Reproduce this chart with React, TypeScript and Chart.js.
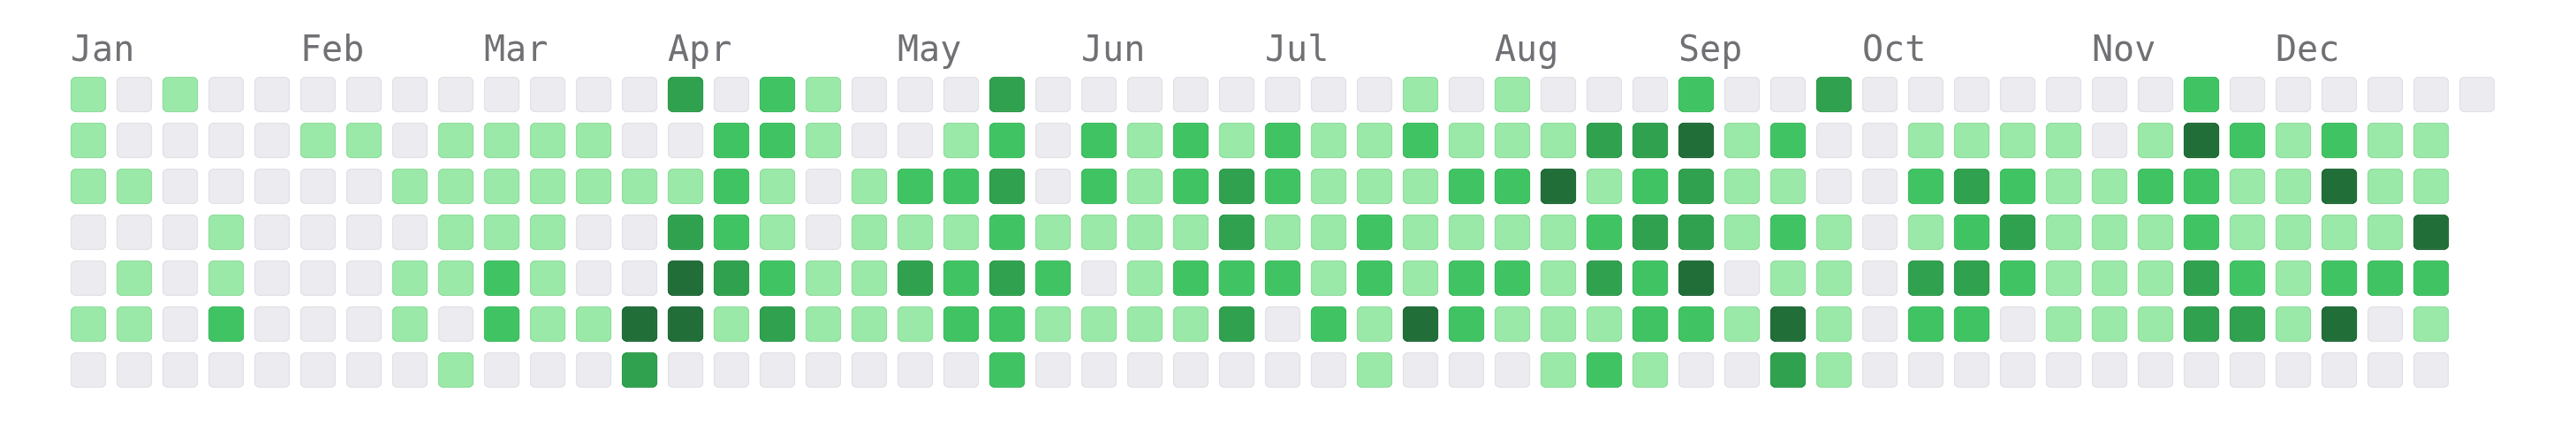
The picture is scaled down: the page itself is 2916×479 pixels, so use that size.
import React, { useEffect, useRef } from 'react';
import { Chart, registerables } from 'chart.js';

Chart.register(...registerables);

// Month labels and the week column in which each label starts
const months = ['Jan', 'Feb', 'Mar', 'Apr', 'May', 'Jun', 'Jul', 'Aug', 'Sep', 'Oct', 'Nov', 'Dec'];
const monthStartWeek = [0, 5, 9, 13, 18, 22, 26, 31, 35, 39, 44, 48];
const weekCount = 53;

// Contribution level (0-4) per week, one array per weekday row
const sun = [1, 0, 1, 0, 0, 0, 0, 0, 0, 0, 0, 0, 0, 3, 0, 2, 1, 0, 0, 0, 3, 0, 0, 0, 0, 0, 0, 0, 0, 1, 0, 1, 0, 0, 0, 2, 0, 0, 3, 0, 0, 0, 0, 0, 0, 0, 2, 0, 0, 0, 0, 0, 0];
const mon = [1, 0, 0, 0, 0, 1, 1, 0, 1, 1, 1, 1, 0, 0, 2, 2, 1, 0, 0, 1, 2, 0, 2, 1, 2, 1, 2, 1, 1, 2, 1, 1, 1, 3, 3, 4, 1, 2, 0, 0, 1, 1, 1, 1, 0, 1, 4, 2, 1, 2, 1, 1];
const tue = [1, 1, 0, 0, 0, 0, 0, 1, 1, 1, 1, 1, 1, 1, 2, 1, 0, 1, 2, 2, 3, 0, 2, 1, 2, 3, 2, 1, 1, 1, 2, 2, 4, 1, 2, 3, 1, 1, 0, 0, 2, 3, 2, 1, 1, 2, 2, 1, 1, 4, 1, 1];
const wed = [0, 0, 0, 1, 0, 0, 0, 0, 1, 1, 1, 0, 0, 3, 2, 1, 0, 1, 1, 1, 2, 1, 1, 1, 1, 3, 1, 1, 2, 1, 1, 1, 1, 2, 3, 3, 1, 2, 1, 0, 1, 2, 3, 1, 1, 1, 2, 1, 1, 1, 1, 4];
const thu = [0, 1, 0, 1, 0, 0, 0, 1, 1, 2, 1, 0, 0, 4, 3, 2, 1, 1, 3, 2, 3, 2, 0, 1, 2, 2, 2, 1, 2, 1, 2, 2, 1, 3, 2, 4, 0, 1, 1, 0, 3, 3, 2, 1, 1, 1, 3, 2, 1, 2, 2, 2];
const fri = [1, 1, 0, 2, 0, 0, 0, 1, 0, 2, 1, 1, 4, 4, 1, 3, 1, 1, 1, 2, 2, 1, 1, 1, 1, 3, 0, 2, 1, 4, 2, 1, 1, 1, 2, 2, 1, 4, 1, 0, 2, 2, 0, 1, 1, 1, 3, 3, 1, 4, 0, 1];
const sat = [0, 0, 0, 0, 0, 0, 0, 0, 1, 0, 0, 0, 3, 0, 0, 0, 0, 0, 0, 0, 2, 0, 0, 0, 0, 0, 0, 0, 1, 0, 0, 0, 1, 2, 1, 0, 0, 3, 1, 0, 0, 0, 0, 0, 0, 0, 0, 0, 0, 0, 0, 0];
const dayRows = [sun, mon, tue, wed, thu, fri, sat];

// Styles
const levelFill = ['#ebebf0', '#9be9a8', '#40c463', '#30a14e', '#216e39'];
const levelEdge = ['#e1e1e7', '#8fdd9d', '#3bba5d', '#2c994a', '#1f6837'];

export default function App() {
  const ref = useRef<HTMLCanvasElement>(null);

  useEffect(() => {
    document.body.style.margin = '0';
    const weekLabels = Array.from({ length: weekCount }, (_, w) => {
      const i = monthStartWeek.indexOf(w);
      return i >= 0 ? months[i] : '';
    });
    const half = 20 / 52;
    const datasets = dayRows.map((row, r) => ({
      label: 'row' + r,
      data: Array.from({ length: weekCount }, (_, w) =>
        row[w] === undefined ? null : [r - half, r + half]
      ),
      backgroundColor: Array.from({ length: weekCount }, (_, w) => levelFill[row[w] ?? 0]),
      borderColor: Array.from({ length: weekCount }, (_, w) => levelEdge[row[w] ?? 0]),
      borderWidth: 1.5,
      borderRadius: 6,
      borderSkipped: false,
      grouped: false,
      barThickness: 40,
    }));

    const chart = new Chart(ref.current as HTMLCanvasElement, {
      type: 'bar',
      data: { labels: weekLabels, datasets: datasets as any },
      options: {
        animation: false,
        responsive: false,
        devicePixelRatio: 1,
        layout: { padding: { left: 74, right: 86, top: 37, bottom: 34 } },
        plugins: { legend: { display: false }, tooltip: { enabled: false } },
        scales: {
          x: {
            type: 'category',
            position: 'top',
            offset: true,
            grid: { display: false, drawTicks: false },
            border: { display: false },
            ticks: {
              autoSkip: false,
              maxRotation: 0,
              minRotation: 0,
              align: 'start',
              labelOffset: -20,
              padding: -2,
              color: '#707075',
              font: { family: '"DejaVu Sans Mono", monospace', size: 40 },
            },
          },
          y: { type: 'linear', min: -0.5, max: 6.5, reverse: true, display: false },
        },
      } as any,
    });
    return () => chart.destroy();
  }, []);

  return (
    <div style={{ width: 2916, height: 479, background: '#ffffff' }}>
      <canvas ref={ref} width={2916} height={479} style={{ display: 'block' }} />
    </div>
  );
}
